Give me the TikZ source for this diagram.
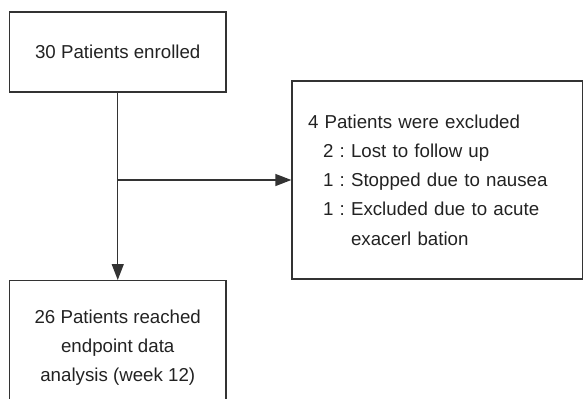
\documentclass[tikz,border=0pt]{standalone}
\usepackage{fontspec}
\setmainfont{Liberation Sans}
\usetikzlibrary{arrows.meta}
\definecolor{ln}{HTML}{333333}
\definecolor{tx}{HTML}{222222}
\frenchspacing
\begin{document}
\begin{tikzpicture}[x=1pt,y=-1pt,
  box/.style={draw=ln,line width=1.3pt,text=tx,inner sep=0pt,font=\fontsize{18.7}{29.3}\selectfont\frenchspacing},
  conn/.style={draw=ln,line width=1.3pt,-{Triangle[length=16pt,width=12pt]}}]
\useasboundingbox (0,0) rectangle (584,399);
\clip (0,0) rectangle (584,399);
\node[box,minimum width=216.5pt,minimum height=80pt] (enr) at (117.75,52) {30 Patients enrolled};
\node[box,minimum width=290.5pt,minimum height=198pt,text width=258.5pt,align=left,inner xsep=16pt] (exc) at (437.25,180) {4 Patients were excluded\\
\hspace*{15pt}2 : Lost to follow up\\
\hspace*{15pt}1 : Stopped due to nausea\\
\hspace*{15pt}1 : Excluded due to acute\\
\hspace*{15pt}\phantom{1 : }exacerl bation};
\node[box,minimum width=216.5pt,minimum height=134pt,align=center,anchor=north] (res) at (117.75,280) {26 Patients reached\\endpoint data\\analysis (week 12)};
\coordinate (br) at (enr.south |- exc.west);
\draw[conn] (enr.south) -- (res.north);
\draw[conn] (br) -- (exc.west);
\end{tikzpicture}
\end{document}
